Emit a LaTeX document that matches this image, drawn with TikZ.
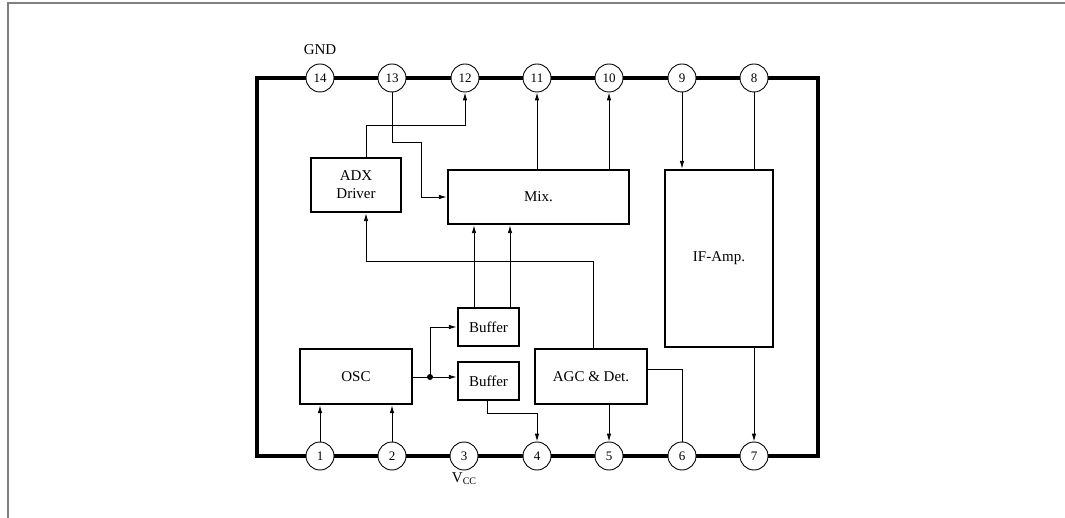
\documentclass[tikz,border=0pt]{standalone}
\usepackage{fontspec}
\setmainfont{Liberation Serif}
\usetikzlibrary{arrows.meta}
\begin{document}
\begin{tikzpicture}[x=1pt,y=-1pt,
  pin/.style={circle,draw,fill=white,line width=0.9pt,minimum size=28pt,inner sep=0pt,font=\fontsize{13}{13}\selectfont},
  blk/.style={draw,line width=2.4pt,fill=white,font=\fontsize{15}{18}\selectfont,align=center,inner sep=0pt},
  conn/.style={line width=0.9pt},
  arr/.style={conn,-{Latex[length=8pt,width=4.5pt]}},
  lbl/.style={font=\fontsize{15}{15}\selectfont,inner sep=0pt}]
\useasboundingbox (0,0) rectangle (1065,518);
\draw[gray,line width=1.2pt] (1065,3) -- (8,3) -- (8,518);
\draw[line width=3.5pt] (257,78) rectangle (818,456);
% pins
\foreach \n/\x in {14/320,13/392,12/465,11/537,10/609,9/682,8/754}
  \node[pin] (p\n) at (\x,78) {\n};
\foreach \n/\x in {1/320,2/392,3/464,4/537,5/609,6/682,7/754}
  \node[pin] (p\n) at (\x,456) {\n};
\node[lbl] (gnd) at (320,50) {GND};
\node[lbl] (vcc) at (464,479) {V\raisebox{-2pt}{\fontsize{10}{10}\selectfont CC}};
% blocks
\node[blk,minimum width=90pt,minimum height=54pt] (adx) at (356,185) {ADX\\Driver};
\node[blk,minimum width=181pt,minimum height=54pt] (mix) at (538.5,197) {Mix.};
\node[blk,minimum width=108pt,minimum height=177pt] (ifamp) at (719,258.5) {IF-Amp.};
\node[blk,minimum width=61pt,minimum height=38pt] (buf1) at (488.5,327) {Buffer};
\node[blk,minimum width=61pt,minimum height=38pt] (buf2) at (488.5,381) {Buffer};
\node[blk,minimum width=112pt,minimum height=55pt] (osc) at (356,376.5) {OSC};
\node[blk,minimum width=112pt,minimum height=55pt] (agc) at (591,376.5) {AGC \& Det.};
% connectors
\draw[arr] (p13.south) |- (421,142) |- (mix.west);
\draw[arr] ([xshift=10pt]adx.north) |- (465,125) -- (p12.south);
\draw[arr] (mix.north -| p11) -- (p11.south);
\draw[arr] (mix.north -| p10) -- (p10.south);
\draw[arr] (p9.south) -- (p9 |- ifamp.north);
\draw[conn] (p8.south) -- (p8 |- ifamp.north);
\draw[arr] (p7 |- ifamp.south) -- (p7.north);
\draw[arr] ([xshift=-14.5pt]buf1.north) -- ([xshift=-14.5pt]buf1.north |- mix.south);
\draw[arr] ([xshift=21.5pt]buf1.north) -- ([xshift=21.5pt]buf1.north |- mix.south);
\coordinate (dot) at (430,377);
\draw[arr] (osc.east |- dot) -- (dot -| buf2.west);
\draw[arr] (dot) |- (buf1.west);
\fill (dot) circle (3pt);
\draw[arr] (p1.north) -- (p1 |- osc.south);
\draw[arr] (p2.north) -- (p2 |- osc.south);
\draw[arr] ([xshift=-1.5pt]buf2.south) |- (537,413) -- (p4.north);
\draw[arr] (agc.south -| p5) -- (p5.north);
\draw[conn] ([yshift=7.5pt]agc.east) -| (p6.north);
\draw[arr] ([xshift=2pt]agc.north) |- (366,261) -- ([xshift=10pt]adx.south);
\end{tikzpicture}
\end{document}
